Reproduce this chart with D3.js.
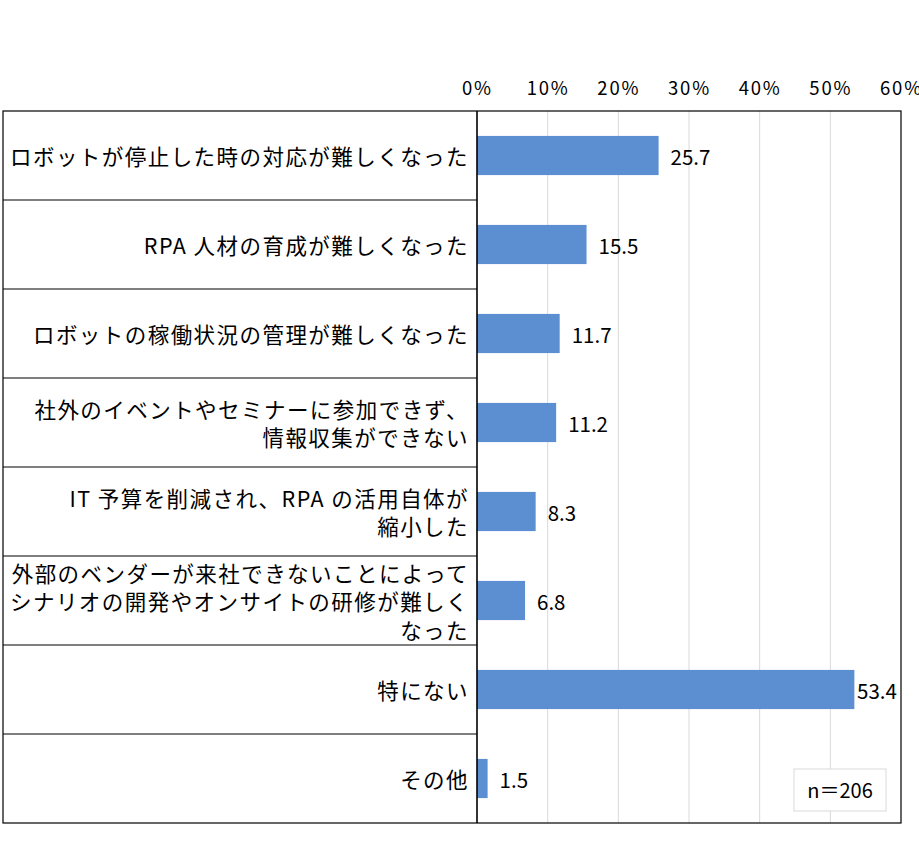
<!DOCTYPE html>
<html>
<head>
<meta charset="utf-8">
<script src="https://cdn.jsdelivr.net/npm/d3@7"></script>
<style>
  body { margin: 0; background: #fff; }
  svg { display: block; }
</style>
</head>
<body>
<div id="chart"></div>
<script>
// 回答項目（改行は "\n"）
const categories = [
  "ロボットが停止した時の対応が難しくなった",
  "RPA 人材の育成が難しくなった",
  "ロボットの稼働状況の管理が難しくなった",
  "社外のイベントやセミナーに参加できず、\n情報収集ができない",
  "IT 予算を削減され、RPA の活用自体が\n縮小した",
  "外部のベンダーが来社できないことによって\nシナリオの開発やオンサイトの研修が難しく\nなった",
  "特にない",
  "その他"
];
const values = [25.7, 15.5, 11.7, 11.2, 8.3, 6.8, 53.4, 1.5];
const tickValues = [0, 10, 20, 30, 40, 50, 60];
const sampleNote = "n＝206";

const width = 919, height = 846;
const tableLeft = 3, plotLeft = 477, plotRight = 901, plotTop = 111, plotBottom = 823;
const font = "'Noto Sans CJK JP', 'Noto Sans', sans-serif";

const svg = d3.select("#chart").append("svg")
  .attr("width", width)
  .attr("height", height);

const x = d3.scaleLinear().domain([0, 60]).range([plotLeft, plotRight]);
const rows = d3.scaleBand().domain(d3.range(categories.length)).range([plotTop, plotBottom]);
const bars = d3.scaleBand().domain(d3.range(categories.length)).range([plotTop, plotBottom])
  .paddingInner(0.56).paddingOuter(0.28);

// 目盛り線
svg.append("g")
  .selectAll("line")
  .data(tickValues.slice(1, -1))
  .join("line")
  .attr("x1", d => x(d)).attr("x2", d => x(d))
  .attr("y1", plotTop).attr("y2", plotBottom)
  .attr("stroke", "#d9d9d9")
  .attr("stroke-width", 1);

// 上側の軸ラベル
const axis = svg.append("g")
  .attr("transform", `translate(0,${plotTop})`)
  .call(d3.axisTop(x).tickValues(tickValues).tickSize(0).tickPadding(16).tickFormat(d => d + "%"));
axis.select(".domain").remove();
axis.selectAll("text")
  .style("font-family", font)
  .style("font-size", "18.5px")
  .style("letter-spacing", "1.8px")
  .attr("fill", "#000");

// 棒
svg.append("g")
  .selectAll("rect")
  .data(values)
  .join("rect")
  .attr("x", x(0))
  .attr("y", (d, i) => bars(i))
  .attr("width", d => x(d) - x(0))
  .attr("height", bars.bandwidth())
  .attr("fill", "#5b8fd1");

// 数値ラベル
svg.append("g")
  .selectAll("text")
  .data(values)
  .join("text")
  .attr("x", d => Math.min(x(d) + 12, plotRight - 44))
  .attr("y", (d, i) => rows(i) + rows.bandwidth() / 2 + 2)
  .attr("dy", "0.35em")
  .style("font-family", font)
  .style("font-size", "20.5px")
  .attr("fill", "#000")
  .text(d => d.toFixed(1));

// 左側の表
const table = svg.append("g");
table.selectAll("line.sep")
  .data(d3.range(1, categories.length))
  .join("line")
  .attr("class", "sep")
  .attr("x1", tableLeft).attr("x2", plotLeft)
  .attr("y1", i => rows(i)).attr("y2", i => rows(i))
  .attr("stroke", "#000").attr("stroke-width", 1.2);

categories.forEach((c, i) => {
  const lines = c.split("\n");
  const lh = 28.5;
  const cy = rows(i) + rows.bandwidth() / 2 + 2;
  const t = table.append("text")
    .attr("text-anchor", "end")
    .style("font-family", font)
    .style("font-size", "21.5px")
    .style("letter-spacing", "1.45px")
    .attr("fill", "#000");
  lines.forEach((l, j) => {
    t.append("tspan")
      .attr("x", plotLeft - 8)
      .attr("y", cy + (j - (lines.length - 1) / 2) * lh)
      .attr("dy", "0.35em")
      .text(l);
  });
});

// 外枠
svg.append("rect")
  .attr("x", tableLeft).attr("y", plotTop)
  .attr("width", plotRight - tableLeft).attr("height", plotBottom - plotTop)
  .attr("fill", "none").attr("stroke", "#000").attr("stroke-width", 1.2);
svg.append("line")
  .attr("x1", plotLeft).attr("x2", plotLeft)
  .attr("y1", plotTop).attr("y2", plotBottom)
  .attr("stroke", "#000").attr("stroke-width", 1.6);

// n 表示
const nBox = svg.append("g").attr("transform", "translate(794,769)");
nBox.append("rect")
  .attr("width", 92).attr("height", 42)
  .attr("fill", "#fff").attr("stroke", "#d9d9d9");
nBox.append("text")
  .attr("x", 46).attr("y", 22).attr("dy", "0.35em")
  .attr("text-anchor", "middle")
  .style("font-family", font)
  .style("font-size", "20px")
  .text(sampleNote);
</script>
</body>
</html>
